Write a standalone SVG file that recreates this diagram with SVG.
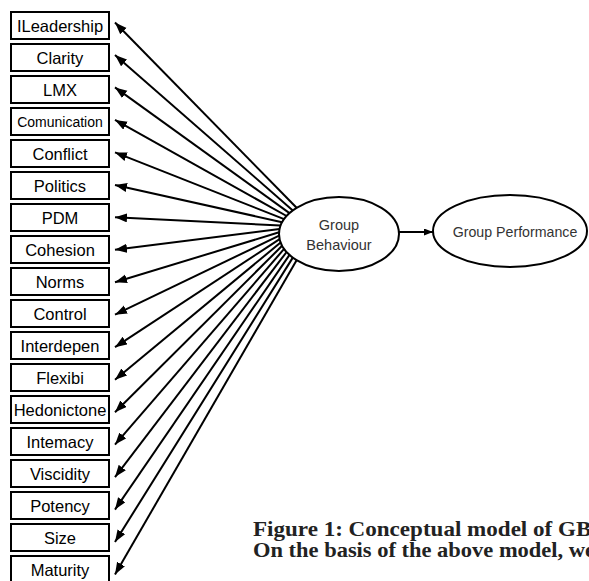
<svg xmlns="http://www.w3.org/2000/svg" width="589" height="581" viewBox="0 0 589 581">
<defs>
<style>
.box rect{fill:#fff;stroke:#000;stroke-width:2}
.box text{font-family:"Liberation Sans",Arial,sans-serif;font-size:16.5px;fill:#000;text-anchor:middle}
.conn line{stroke:#000;stroke-width:2;marker-end:url(#ah)}
.ell ellipse{fill:#fff;stroke:#000;stroke-width:2}
.ell text{font-family:"Liberation Sans",Arial,sans-serif;fill:#333;text-anchor:middle}
.cap{font-family:"Liberation Serif","Times New Roman",serif;font-weight:bold;font-size:21px;fill:#222}
</style>
<marker id="ah" markerUnits="userSpaceOnUse" markerWidth="13" markerHeight="10" refX="12" refY="4.5" orient="auto">
<path d="M0,0 L12,4.5 L0,9 z" fill="#000"/>
</marker>
<marker id="ah2" markerUnits="userSpaceOnUse" markerWidth="10" markerHeight="8" refX="9" refY="3.5" orient="auto">
<path d="M0,0 L9,3.5 L0,7 z" fill="#000"/>
</marker>
</defs>
<rect width="589" height="581" fill="#fff"/>
<g id="connectors" class="conn">
<line x1="296.6" y1="207.8" x2="115" y2="22.5"/>
<line x1="292.8" y1="210.4" x2="115" y2="55.0"/>
<line x1="289.5" y1="213.1" x2="115" y2="87.4"/>
<line x1="286.6" y1="216.0" x2="115" y2="119.9"/>
<line x1="284.1" y1="219.1" x2="115" y2="152.4"/>
<line x1="282.1" y1="222.2" x2="115" y2="184.9"/>
<line x1="280.6" y1="225.5" x2="115" y2="217.3"/>
<line x1="279.6" y1="228.9" x2="115" y2="249.8"/>
<line x1="279.1" y1="232.3" x2="115" y2="282.3"/>
<line x1="279.1" y1="235.7" x2="115" y2="314.7"/>
<line x1="279.6" y1="239.1" x2="115" y2="347.2"/>
<line x1="280.6" y1="242.5" x2="115" y2="379.7"/>
<line x1="282.1" y1="245.8" x2="115" y2="412.2"/>
<line x1="284.1" y1="248.9" x2="115" y2="444.6"/>
<line x1="286.6" y1="252.0" x2="115" y2="477.1"/>
<line x1="289.5" y1="254.9" x2="115" y2="509.6"/>
<line x1="292.8" y1="257.6" x2="115" y2="542.0"/>
<line x1="296.6" y1="260.2" x2="115" y2="574.5"/>
<line x1="399" y1="232" x2="433" y2="232" style="marker-end:url(#ah2)"/>
</g>
<g id="n-ileadership" class="box"><rect x="11" y="12" width="98" height="27"/><text x="60" y="31.5">ILeadership</text></g>
<g id="n-clarity" class="box"><rect x="11" y="44" width="98" height="27"/><text x="60" y="63.5">Clarity</text></g>
<g id="n-lmx" class="box"><rect x="11" y="76" width="98" height="27"/><text x="60" y="95.5">LMX</text></g>
<g id="n-comunication" class="box"><rect x="11" y="108" width="98" height="27"/><text x="60" y="127" style="font-size:14px">Comunication</text></g>
<g id="n-conflict" class="box"><rect x="11" y="140" width="98" height="27"/><text x="60" y="159.5">Conflict</text></g>
<g id="n-politics" class="box"><rect x="11" y="172" width="98" height="27"/><text x="60" y="191.5">Politics</text></g>
<g id="n-pdm" class="box"><rect x="11" y="204" width="98" height="27"/><text x="60" y="223.5">PDM</text></g>
<g id="n-cohesion" class="box"><rect x="11" y="236" width="98" height="27"/><text x="60" y="255.5">Cohesion</text></g>
<g id="n-norms" class="box"><rect x="11" y="268" width="98" height="27"/><text x="60" y="287.5">Norms</text></g>
<g id="n-control" class="box"><rect x="11" y="300" width="98" height="27"/><text x="60" y="319.5">Control</text></g>
<g id="n-interdepen" class="box"><rect x="11" y="332" width="98" height="27"/><text x="60" y="351.5">Interdepen</text></g>
<g id="n-flexibi" class="box"><rect x="11" y="364" width="98" height="27"/><text x="60" y="383.5">Flexibi</text></g>
<g id="n-hedonictone" class="box"><rect x="11" y="396" width="98" height="27"/><text x="60" y="415.5">Hedonictone</text></g>
<g id="n-intemacy" class="box"><rect x="11" y="428" width="98" height="27"/><text x="60" y="447.5">Intemacy</text></g>
<g id="n-viscidity" class="box"><rect x="11" y="460" width="98" height="27"/><text x="60" y="479.5">Viscidity</text></g>
<g id="n-potency" class="box"><rect x="11" y="492" width="98" height="27"/><text x="60" y="511.5">Potency</text></g>
<g id="n-size" class="box"><rect x="11" y="524" width="98" height="27"/><text x="60" y="543.5">Size</text></g>
<g id="n-maturity" class="box"><rect x="11" y="556" width="98" height="27"/><text x="60" y="575.5">Maturity</text></g>
<g id="n-group-behaviour" class="ell"><ellipse cx="339" cy="234" rx="60" ry="37"/><text x="339" y="230" style="font-size:14.5px">Group</text><text x="339" y="250" style="font-size:14.5px">Behaviour</text></g>
<g id="n-group-performance" class="ell"><ellipse cx="510" cy="231" rx="77" ry="36"/><text x="515" y="237" style="font-size:14.2px">Group Performance</text></g>
<text class="cap" x="253" y="536" textLength="378" lengthAdjust="spacingAndGlyphs">Figure 1: Conceptual model of GB-GP</text>
<text class="cap" x="253" y="557" textLength="342" lengthAdjust="spacingAndGlyphs">On the basis of the above model, we</text>
</svg>
